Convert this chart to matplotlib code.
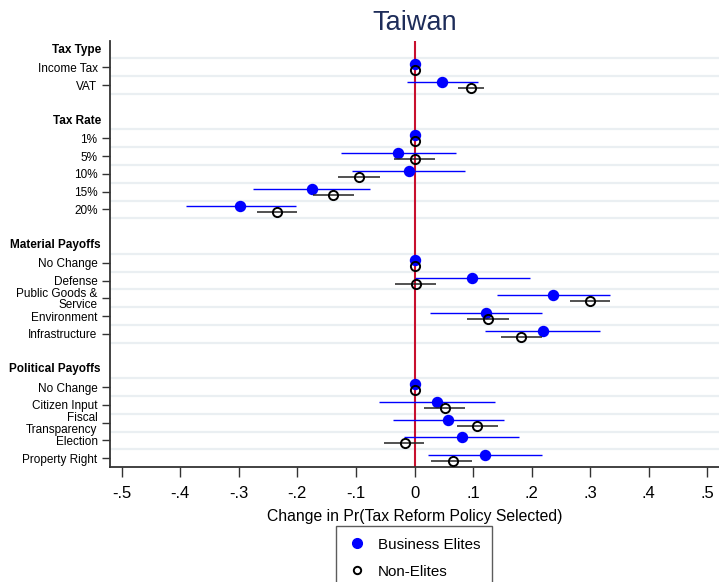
import matplotlib
matplotlib.use("Agg")
import matplotlib.pyplot as plt
from matplotlib.lines import Line2D
import numpy as np

plt.rcParams['font.family'] = ['Liberation Sans', 'DejaVu Sans']

# groups and their items (top to bottom)
groups = ["Tax Type", "Tax Rate", "Material Payoffs", "Political Payoffs"]
items = [
    ["Income Tax", "VAT"],
    ["1%", "5%", "10%", "15%", "20%"],
    ["No Change", "Defense", "Public Goods &\nService", "Environment", "Infrastructure"],
    ["No Change", "Citizen Input", "Fiscal\nTransparency", "Election", "Property Right"],
]

# Business Elites: estimate, lower, upper
elite_est = [0.0, 0.0475, 0.0, -0.028, -0.010, -0.175, -0.298,
             0.0, 0.099, 0.237, 0.122, 0.219,
             0.0, 0.038, 0.057, 0.081, 0.120]
elite_lo = [0.0, -0.013, 0.0, -0.126, -0.106, -0.276, -0.391,
            0.0, 0.000, 0.141, 0.027, 0.121,
            0.0, -0.060, -0.037, -0.018, 0.0235]
elite_hi = [0.0, 0.109, 0.0, 0.071, 0.086, -0.076, -0.203,
            0.0, 0.197, 0.334, 0.218, 0.317,
            0.0, 0.137, 0.152, 0.178, 0.217]

# Non-Elites: estimate, lower, upper
non_est = [0.0, 0.097, 0.0, 0.0, -0.0955, -0.139, -0.235,
           0.0, 0.003, 0.299, 0.125, 0.182,
           0.0, 0.052, 0.107, -0.017, 0.065]
non_lo = [0.0, 0.075, 0.0, -0.0355, -0.1315, -0.174, -0.269,
          0.0, -0.0325, 0.265, 0.090, 0.148,
          0.0, 0.0165, 0.072, -0.052, 0.029]
non_hi = [0.0, 0.119, 0.0, 0.035, -0.0595, -0.103, -0.201,
          0.0, 0.037, 0.334, 0.161, 0.218,
          0.0, 0.086, 0.142, 0.017, 0.099]

xticks = [-0.5, -0.4, -0.3, -0.2, -0.1, 0, 0.1, 0.2, 0.3, 0.4, 0.5]
xticklabels = ["-.5", "-.4", "-.3", "-.2", "-.1", "0", ".1", ".2", ".3", ".4", ".5"]

# row layout: header row, item rows, one blank row between groups
header_pos = []
item_pos = []
item_lab = []
grid_pos = []
r = 0
for g, its in zip(groups, items):
    header_pos.append(r)
    grid_pos.append(r + 0.5)
    r += 1
    for it in its:
        item_pos.append(r)
        item_lab.append(it)
        grid_pos.append(r + 0.5)
        r += 1
    r += 1
grid_pos = [p for p in grid_pos if p < item_pos[-1]]
item_pos = np.array(item_pos, dtype=float)

fig = plt.figure(figsize=(7.19, 5.82), dpi=100)
ax = fig.add_axes([0.153, 0.198, 0.847, 0.7316])

for p in grid_pos:
    ax.axhline(p, color="#eaeff2", lw=1.6, zorder=0)
ax.axvline(0, color="#c8102e", lw=1.5, zorder=1)

off = 0.17
ax.hlines(item_pos - off, elite_lo, elite_hi, color="blue", lw=1.0, zorder=2)
ax.plot(elite_est, item_pos - off, "o", color="blue", ms=7.2, mec="blue", zorder=3)
ax.hlines(item_pos + off, non_lo, non_hi, color="#222222", lw=1.1, zorder=4)
ax.plot(non_est, item_pos + off, "o", mfc="none", mec="black", mew=1.4, ms=6.6, zorder=5)

ax.set_xlim(-0.52, 0.52)
ax.set_ylim(item_pos[-1] + 0.48, -0.48)
ax.set_xticks(xticks)
ax.set_xticklabels(xticklabels, fontsize=12)
ax.set_yticks(item_pos)
ax.set_yticklabels(item_lab, fontsize=8.5, linespacing=0.95)
for p, g in zip(header_pos, groups):
    ax.text(-0.015, p, g, transform=ax.get_yaxis_transform(), ha="right", va="center",
            fontsize=8.5, fontweight="bold")

ax.tick_params(axis="both", direction="out", length=6, width=1, color="#333333")
ax.tick_params(axis="y", pad=3)
ax.tick_params(axis="x", length=7, pad=6.5)
for s in ["top", "right"]:
    ax.spines[s].set_visible(False)
for s in ["left", "bottom"]:
    ax.spines[s].set_color("#333333")
    ax.spines[s].set_linewidth(1.3)

ax.set_xlabel("Change in Pr(Tax Reform Policy Selected)", fontsize=11.3, labelpad=6)
ax.set_title("Taiwan", fontsize=19.5, color="#1e2d5a", pad=8)

handles = [
    Line2D([], [], ls="none", marker="o", color="blue", ms=7),
    Line2D([], [], ls="none", marker="o", mfc="none", mec="black", mew=1.4, ms=5.3),
]
leg = fig.legend(handles, ["Business Elites", "Non-Elites"], loc="upper center",
                 bbox_to_anchor=(0.5758, 0.1085), fontsize=10.9, frameon=True,
                 fancybox=False, edgecolor="#333333", handlelength=1.2,
                 handletextpad=0.8, borderpad=0.75, labelspacing=0.85)
leg.get_frame().set_linewidth(1.0)

fig.savefig("out.png", dpi=100)
